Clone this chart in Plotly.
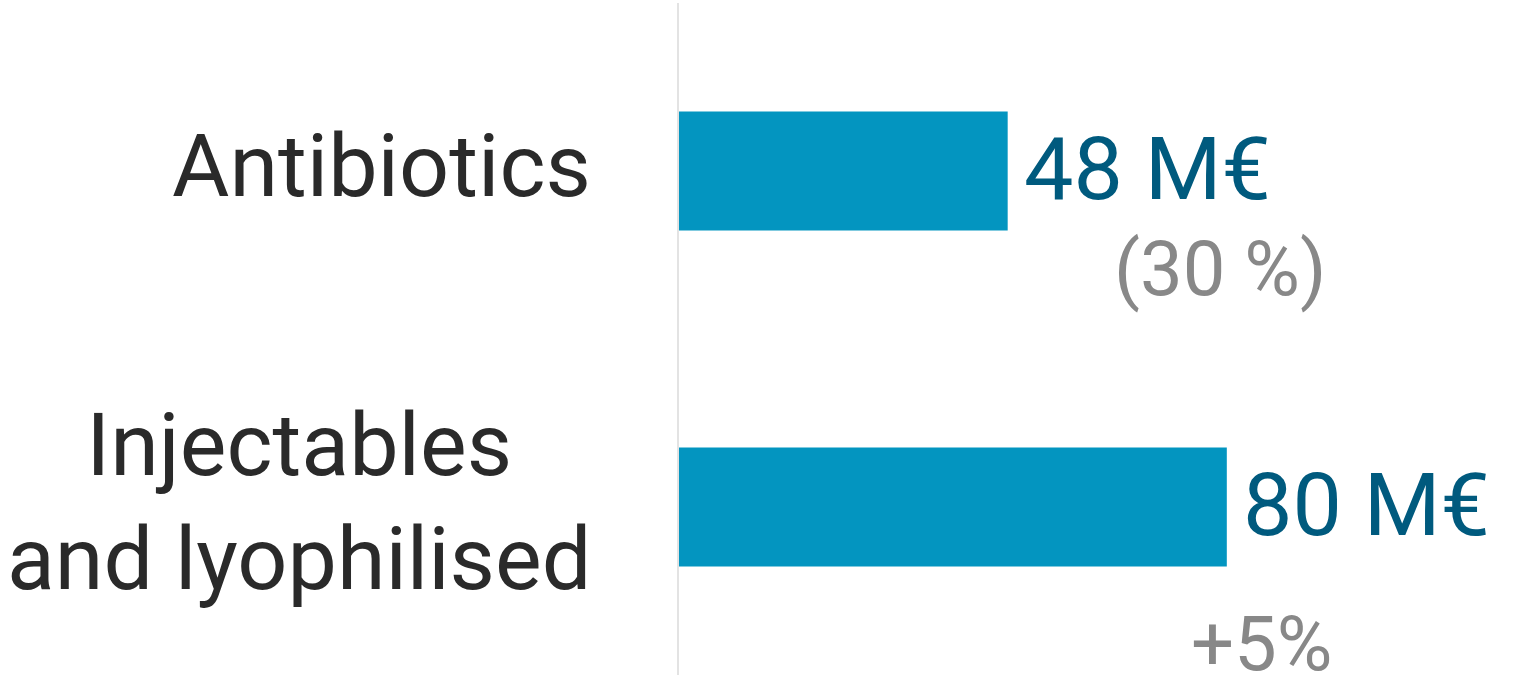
import plotly.graph_objects as go

categories = ["Antibiotics", "Injectables<br>and lyophilised"]
values = [48, 80]
value_labels = ["48 M€", "80 M€"]
sub_labels = ["(30 %)", "+5%"]

BAR = "#0395c0"
VAL = "#005a7e"
GRAY = "#888888"
CAT = "#2a2a2a"
FONT = "Roboto"

fig = go.Figure(
    go.Bar(
        x=values,
        y=categories,
        orientation="h",
        marker=dict(color=BAR, line=dict(width=0)),
        hoverinfo="skip",
    )
)

annotations = []
# category labels (centered multi-line, left of the axis)
for c in categories:
    annotations.append(dict(
        x=0, y=c, xref="x", yref="y", text=c, showarrow=False,
        xanchor="right", yanchor="middle", align="center", xshift=-86, yshift=6,
        font=dict(family=FONT, size=88, color=CAT),
    ))
# value labels
for c, v, t in zip(categories, values, value_labels):
    annotations.append(dict(
        x=v, y=c, xref="x", yref="y", text=t, showarrow=False,
        xanchor="left", yanchor="middle", xshift=14, yshift=3,
        font=dict(family=FONT, size=88, color=VAL),
    ))
# sub labels
sub_shifts = [(104, -98), (-38, -137)]
for c, v, t, (dx, dy) in zip(categories, values, sub_labels, sub_shifts):
    annotations.append(dict(
        x=v, y=c, xref="x", yref="y", text=t, showarrow=False,
        xanchor="left", yanchor="middle", xshift=dx, yshift=dy,
        font=dict(family=FONT, size=76, color=GRAY),
    ))

fig.update_layout(
    width=1537, height=692,
    margin=dict(l=679, r=0, t=3, b=17),
    paper_bgcolor="white", plot_bgcolor="white",
    bargap=0.646,
    showlegend=False,
    annotations=annotations,
    xaxis=dict(range=[0, 125.3], visible=False, fixedrange=True),
    yaxis=dict(
        autorange="reversed", showticklabels=False, showgrid=False,
        zeroline=False, showline=True, linecolor="#e3e3e3", linewidth=2,
        ticks="", fixedrange=True,
    ),
)

fig.write_html(
    "out.html",
    config={"displayModeBar": False},
    post_script="document.body.style.margin='0';document.body.style.overflow='hidden';",
)
